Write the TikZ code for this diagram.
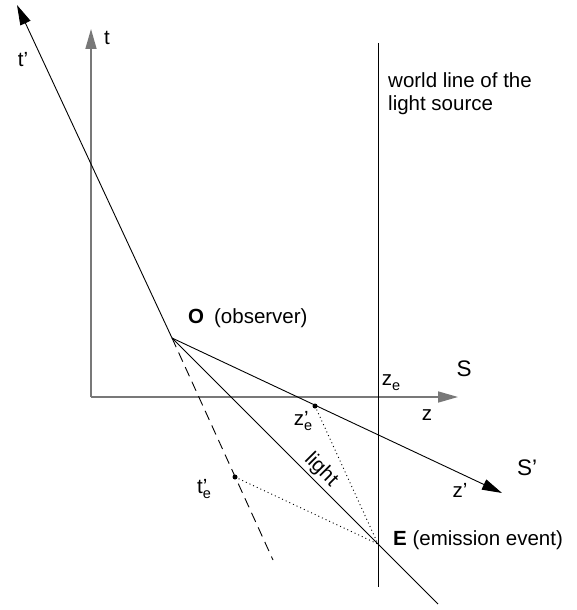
\documentclass[tikz,border=0pt]{standalone}
\usepackage{fontspec}
\setmainfont{Liberation Sans}
\usetikzlibrary{arrows.meta}
\definecolor{axisgray}{RGB}{120,120,120}
\newcommand\sbs[1]{\raisebox{-0.45ex}{\fontsize{14.5}{16}\selectfont #1}}
\begin{document}
\begin{tikzpicture}[x=1pt,y=-1pt,
  tip/.style={-{Triangle[length=20pt,width=11pt]}},
  axis/.style={draw=axisgray, line width=1.6pt, tip},
  ln/.style={draw=black, line width=0.9pt},
  lbl/.style={inner sep=0pt, font=\fontsize{20.5}{23}\selectfont},
  big/.style={inner sep=0pt, font=\fontsize{22.5}{26}\selectfont},
  dotl/.style={draw=black, line width=0.9pt, dash pattern=on 1pt off 3pt},
  dashl/.style={draw=black, line width=0.9pt, dash pattern=on 10pt off 6pt},
  pt/.style={fill=black}]
\useasboundingbox (0,0) rectangle (576,610);
% key points
\coordinate (Or) at (91,397);
\coordinate (tT) at (91,29);
\coordinate (zT) at (458,397);
\coordinate (O) at (172,338);
\coordinate (tpT) at (17,5);
\coordinate (dEnd) at (273,560);
\coordinate (SpT) at (502,493);
\coordinate (E) at (378,544);
\coordinate (lEnd) at (438,604);
\coordinate (wT) at (378,43);
\coordinate (wB) at (378,587);
\coordinate (zep) at (315,406);
\coordinate (tep) at (235,477);
% axes of S
\draw[axis] (Or) -- (tT);
\draw[axis] (Or) -- (zT);
% world line
\draw[ln] (wT) -- (wB);
% S' axes
\draw[ln, tip] (O) -- (tpT);
\draw[ln, tip] (O) -- (SpT);
\draw[dashl] (O) -- (dEnd);
% light
\draw[ln] (O) -- (E) -- (lEnd);
% projections
\draw[dotl] (zep) -- (E);
\draw[dotl] (tep) -- (E);
\fill[pt] (zep) circle (2.5pt);
\fill[pt] (tep) circle (2.5pt);
% labels
\node[lbl] (tl) at (107,38) {t};
\node[lbl] (tpl) at (23,60) {t’};
\node[lbl, anchor=west, align=left] (wl) at (388,94) {world line of the\\light source};
\node[lbl, anchor=west] (Ol) at (188,318) {\textbf{O}\hspace{10pt}(observer)};
\node[big] (Sl) at (464,369) {S};
\node[lbl] (zl) at (427,415) {z};
\node[lbl] (zel) at (391,383) {z\sbs{e}};
\node[lbl] (zepl) at (303,421) {z\makebox[0pt][l]{’}\sbs{e}};
\node[lbl] (tepl) at (204,489) {t\makebox[0pt][l]{’}\sbs{e}};
\node[lbl, rotate=-45] (lightl) at (321,470) {light};
\node[big] (Spl) at (527,468) {S’};
\node[lbl] (zpl) at (460,490) {z’};
\node[lbl, anchor=west] (El) at (393,540) {\textbf{E} (emission event)};
\end{tikzpicture}
\end{document}
